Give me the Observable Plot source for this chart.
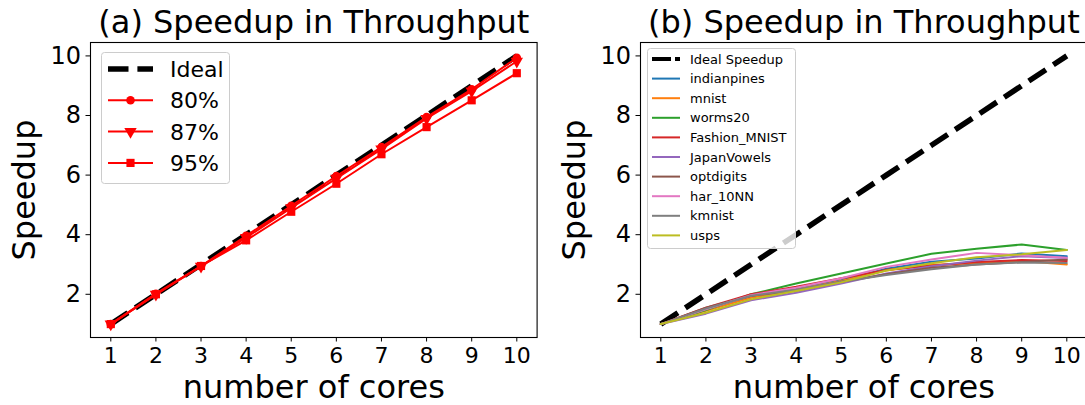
<!DOCTYPE html>
<html><head><meta charset="utf-8">
<script src="https://cdn.jsdelivr.net/npm/d3@7"></script>
<script src="https://cdn.jsdelivr.net/npm/@observablehq/plot@0.6"></script>
<style>
html,body{margin:0;padding:0;background:#fff;overflow:hidden;}
#wrap{position:relative;width:1085px;height:405px;overflow:hidden;font-family:"DejaVu Sans",sans-serif;background:#fff;}
.panel{position:absolute;top:0;}
#legend{position:absolute;left:0;top:0;pointer-events:none;}
</style></head><body><div id="wrap"></div>
<script>
// ---- data ----
const cores = [1, 2, 3, 4, 5, 6, 7, 8, 9, 10];
const xTicks = [1, 2, 3, 4, 5, 6, 7, 8, 9, 10];
const yTicks = [2, 4, 6, 8, 10];
const ideal = [1, 2, 3, 4, 5, 6, 7, 8, 9, 10];

// panel (a)
const accNames = ["80%", "87%", "95%"];
const acc80 = [1.0, 2.02, 2.95, 3.96, 4.97, 5.97, 6.94, 7.95, 8.88, 9.94];
const acc87 = [1.0, 2.00, 2.94, 3.90, 4.90, 5.89, 6.87, 7.90, 8.82, 9.82];
const acc95 = [1.0, 2.00, 2.95, 3.81, 4.77, 5.71, 6.70, 7.61, 8.51, 9.42];

// panel (b)
const datasets = ["indianpines", "mnist", "worms20", "Fashion_MNIST", "JapanVowels", "optdigits", "har_10NN", "kmnist", "usps"];
const indianpines   = [1, 1.47, 1.90, 2.18, 2.47, 2.86, 3.09, 3.20, 3.37, 3.28];
const mnist         = [1, 1.45, 1.88, 2.15, 2.45, 2.80, 2.99, 3.04, 3.12, 3.00];
const worms20       = [1, 1.47, 2.00, 2.36, 2.70, 3.03, 3.36, 3.53, 3.67, 3.49];
const Fashion_MNIST = [1, 1.55, 2.00, 2.25, 2.54, 2.82, 2.96, 3.08, 3.15, 3.12];
const JapanVowels   = [1, 1.35, 1.80, 2.05, 2.36, 2.70, 2.94, 3.13, 3.28, 3.22];
const optdigits     = [1, 1.55, 1.95, 2.12, 2.42, 2.67, 2.89, 3.00, 3.08, 3.17];
const har_10NN      = [1, 1.50, 1.97, 2.22, 2.54, 2.92, 3.17, 3.39, 3.31, 3.23];
const kmnist        = [1, 1.52, 1.95, 2.15, 2.42, 2.65, 2.84, 3.00, 3.07, 3.05];
const usps          = [1, 1.38, 1.83, 2.11, 2.40, 2.80, 3.04, 3.24, 3.34, 3.49];
const datasetValues = [indianpines, mnist, worms20, Fashion_MNIST, JapanVowels, optdigits, har_10NN, kmnist, usps];
const tab10 = ["#1f77b4", "#ff7f0e", "#2ca02c", "#d62728", "#9467bd", "#8c564b", "#e377c2", "#7f7f7f", "#bcbd22"];

// ---- tables ----
const idealRows = cores.map((c, i) => ({cores: c, value: ideal[i]}));
const accRows = [acc80, acc87, acc95].flatMap((arr, k) => cores.map((c, i) => ({cores: c, value: arr[i], series: accNames[k]})));
const dsRows = datasetValues.flatMap((arr, k) => cores.map((c, i) => ({cores: c, value: arr[i], series: datasets[k]})));

const FONT = "DejaVu Sans";
const DASH = "20.5,8.9";

function panel(width, marginLeft, marginRight, title, marks, extra = {}) {
  return Plot.plot({
    width, height: 405, marginLeft, marginRight, marginTop: 42, marginBottom: 68,
    style: {fontFamily: FONT, color: "black", background: "transparent", overflow: "visible"},
    x: {domain: [0.55, 10.45]},
    y: {domain: [0.55, 10.45]},
    ...extra,
    marks: [
      ...marks,
      Plot.frame({stroke: "black", strokeWidth: 1.1}),
      Plot.axisX({ticks: xTicks, tickSize: 4.5, tickPadding: 5, fontSize: 22, label: null, tickFormat: d => String(d)}),
      Plot.axisY({ticks: yTicks, tickSize: 4.5, tickPadding: 5, fontSize: 24, label: null, tickFormat: d => String(d)}),
      Plot.text([title], {text: d => d, frameAnchor: "top", dy: -10, lineAnchor: "bottom", fontSize: 32}),
      Plot.text(["number of cores"], {text: d => d, frameAnchor: "bottom", dy: 60, lineAnchor: "bottom", fontSize: 32}),
      Plot.text(["Speedup"], {text: d => d, frameAnchor: "left", dx: -56, rotate: -90, lineAnchor: "bottom", textAnchor: "middle", fontSize: 32})
    ]
  });
}

const wrap = document.getElementById("wrap");

const left = panel(560, 90, 23.4, "(a) Speedup in Throughput", [
  Plot.line(idealRows, {x: "cores", y: "value", stroke: "black", strokeWidth: 5.5, strokeDasharray: DASH, strokeLinecap: "butt"}),
  Plot.line(accRows, {x: "cores", y: "value", z: "series", stroke: "red", strokeWidth: 2}),
  Plot.dot(accRows.filter(d => d.series === "80%"), {x: "cores", y: "value", symbol: "circle", r: 4.3, fill: "red", stroke: "none"}),
  Plot.dot(accRows.filter(d => d.series === "87%"), {x: "cores", y: "value", symbol: "triangle", rotate: 180, r: 4.6, fill: "red", stroke: "none"}),
  Plot.dot(accRows.filter(d => d.series === "95%"), {x: "cores", y: "value", symbol: "square", r: 4.6, fill: "red", stroke: "none"})
]);
left.classList.add("panel");
left.style.left = "0px";
wrap.appendChild(left);

const right = panel(560, 95, 18.4, "(b) Speedup in Throughput", [
  Plot.line(idealRows, {x: "cores", y: "value", stroke: "black", strokeWidth: 5.5, strokeDasharray: DASH, strokeLinecap: "butt"}),
  Plot.line(dsRows, {x: "cores", y: "value", z: "series", stroke: "series", strokeWidth: 2})
], {color: {domain: datasets, range: tab10}});
right.classList.add("panel");
right.style.left = "545px";
wrap.appendChild(right);

// ---- legends ----
const svg = d3.select(wrap).append("svg").attr("id", "legend").attr("width", 1085).attr("height", 405)
  .style("font-family", FONT);

function legendBox(x, y, w, h) {
  svg.append("rect").attr("x", x + 0.5).attr("y", y + 0.5).attr("width", w).attr("height", h)
    .attr("rx", 3).attr("fill", "white").attr("fill-opacity", 0.8).attr("stroke", "#cccccc").attr("stroke-width", 1);
}

// legend (a)
legendBox(101, 52, 128, 131);
const legA = [{name: "Ideal", ideal: true}, {name: accNames[0], sym: d3.symbolCircle, r: 4.3, rot: 0},
  {name: accNames[1], sym: d3.symbolTriangle, r: 4.6, rot: 180}, {name: accNames[2], sym: d3.symbolSquare, r: 4.6, rot: 0}];
legA.forEach((e, i) => {
  const cy = 69 + i * 31.3;
  if (e.ideal) {
    svg.append("line").attr("x1", 108).attr("x2", 153).attr("y1", cy).attr("y2", cy)
      .attr("stroke", "black").attr("stroke-width", 5.5).attr("stroke-dasharray", DASH);
  } else {
    svg.append("line").attr("x1", 108).attr("x2", 153).attr("y1", cy).attr("y2", cy)
      .attr("stroke", "red").attr("stroke-width", 2);
    svg.append("path").attr("d", d3.symbol(e.sym, Math.PI * e.r * e.r)())
      .attr("transform", `translate(130.5,${cy}) rotate(${e.rot})`).attr("fill", "red");
  }
  svg.append("text").attr("x", 170).attr("y", cy).attr("dy", "0.36em").attr("font-size", 22).text(e.name);
});

// legend (b)
legendBox(647, 48, 148, 200);
const legB = [{name: "Ideal Speedup", color: "black", ideal: true}, ...datasets.map((n, i) => ({name: n, color: tab10[i]}))];
legB.forEach((e, i) => {
  const cy = 59 + i * 19.6;
  svg.append("line").attr("x1", 652).attr("x2", 680).attr("y1", cy).attr("y2", cy)
    .attr("stroke", e.color).attr("stroke-width", e.ideal ? 4 : 2)
    .attr("stroke-dasharray", e.ideal ? "19,4" : null);
  svg.append("text").attr("x", 690).attr("y", cy).attr("dy", "0.36em").attr("font-size", 13).text(e.name);
});
</script>
</body></html>
